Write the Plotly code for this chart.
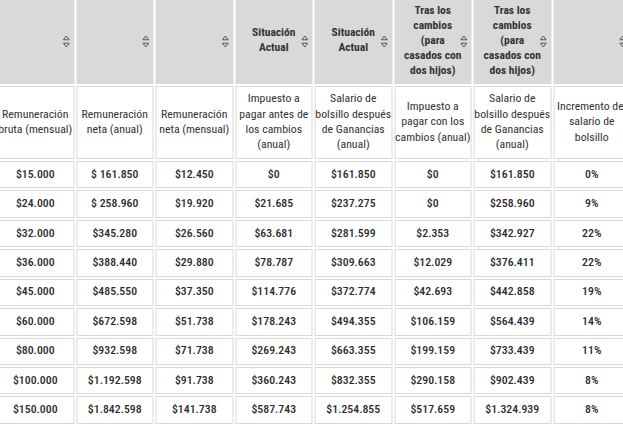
import numpy as np
import plotly.graph_objects as go

# fila 1 de encabezado (agrupación) y fila 2 (nombres de columna)
grupos = ["", "", "", "Situación<br>Actual", "Situación<br>Actual",
          "Tras los<br>cambios<br>(para<br>casados con<br>dos hijos)",
          "Tras los<br>cambios<br>(para<br>casados con<br>dos hijos)", ""]
columnas = ["Remuneración<br>bruta (mensual)",
            "Remuneración<br>neta (anual)",
            "Remuneración<br>neta (mensual)",
            "Impuesto a<br>pagar antes de<br>los cambios<br>(anual)",
            "Salario de<br>bolsillo después<br>de Ganancias<br>(anual)",
            "Impuesto a<br>pagar con los<br>cambios (anual)",
            "Salario de<br>bolsillo después<br>de Ganancias<br>(anual)",
            "Incremento del<br>salario de<br>bolsillo"]

bruta_mensual = ["$15.000", "$24.000", "$32.000", "$36.000", "$45.000",
                 "$60.000", "$80.000", "$100.000", "$150.000"]
neta_anual = ["$ 161.850", "$ 258.960", "$345.280", "$388.440", "$485.550",
              "$672.598", "$932.598", "$1.192.598", "$1.842.598"]
neta_mensual = ["$12.450", "$19.920", "$26.560", "$29.880", "$37.350",
                "$51.738", "$71.738", "$91.738", "$141.738"]
impuesto_antes = ["$0", "$21.685", "$63.681", "$78.787", "$114.776",
                  "$178.243", "$269.243", "$360.243", "$587.743"]
bolsillo_actual = ["$161.850", "$237.275", "$281.599", "$309.663", "$372.774",
                   "$494.355", "$663.355", "$832.355", "$1.254.855"]
impuesto_despues = ["$0", "$0", "$2.353", "$12.029", "$42.693",
                    "$106.159", "$199.159", "$290.158", "$517.659"]
bolsillo_despues = ["$161.850", "$258.960", "$342.927", "$376.411", "$442.858",
                    "$564.439", "$733.439", "$902.439", "$1.324.939"]
incremento = ["0%", "9%", "22%", "22%", "19%", "14%", "11%", "8%", "8%"]

datos = [bruta_mensual, neta_anual, neta_mensual, impuesto_antes,
         bolsillo_actual, impuesto_despues, bolsillo_despues, incremento]

FONT = "Roboto Condensed, Liberation Sans Narrow, Roboto, sans-serif"
GRIS = "#d9d9d9"
BORDE = "#d9d9d9"
TEXTO = "#333333"
W, H = 623, 424

# geometría de la grilla (px): la tabla está recortada a izquierda y derecha
ANCHO_COL = 79.5
X0 = -4.5
altos = [88, 75] + [29.43] * len(bruta_mensual)
Y0 = -3

n_col = len(datos)
n_fil = len(altos)
x_bordes = X0 + ANCHO_COL * np.arange(n_col + 1)
y_bordes = Y0 + np.concatenate([[0], np.cumsum(altos)])
x_centros = (x_bordes[:-1] + x_bordes[1:]) / 2
y_centros = (y_bordes[:-1] + y_bordes[1:]) / 2

# 1 = celda gris (fila de agrupación), 0 = celda blanca
relleno = np.zeros((n_fil, n_col))
relleno[0, :] = 1

fig = go.Figure()
# borde fino gris de cada celda
fig.add_trace(go.Heatmap(
    x=x_bordes, y=y_bordes, z=np.ones((n_fil, n_col)),
    colorscale=[[0, BORDE], [1, BORDE]], zmin=0, zmax=1,
    xgap=2, ygap=2, showscale=False, hoverinfo="skip",
))
# relleno de cada celda
fig.add_trace(go.Heatmap(
    x=x_bordes, y=y_bordes, z=relleno,
    colorscale=[[0, "white"], [1, GRIS]], zmin=0, zmax=1,
    xgap=4, ygap=4, showscale=False, hoverinfo="skip",
))

# textos de la fila de agrupación
fig.add_trace(go.Scatter(
    x=x_centros, y=[y_centros[0]] * n_col, text=grupos,
    mode="text", textposition="middle center",
    textfont=dict(family=FONT, size=11.5, color=TEXTO, weight="bold"),
    hoverinfo="skip",
))
# flechas de orden
x_flechas = x_bordes[1:] - 8.7
fig.add_trace(go.Scatter(
    x=x_flechas, y=[y_centros[0] - 2.5] * n_col, mode="markers",
    marker=dict(symbol="triangle-up-open", size=5, color="#555555",
                line=dict(width=1, color="#555555")),
    hoverinfo="skip",
))
fig.add_trace(go.Scatter(
    x=x_flechas, y=[y_centros[0] + 3.5] * n_col, mode="markers",
    marker=dict(symbol="triangle-down-open", size=5, color="#555555",
                line=dict(width=1, color="#555555")),
    hoverinfo="skip",
))
# nombres de columna
fig.add_trace(go.Scatter(
    x=x_centros, y=[y_centros[1]] * n_col, text=columnas,
    mode="text", textposition="middle center",
    textfont=dict(family=FONT, size=11.8, color=TEXTO),
    hoverinfo="skip",
))
# valores
xs, ys, ts = [], [], []
for j, col in enumerate(datos):
    for i, v in enumerate(col):
        xs.append(x_centros[j])
        ys.append(y_centros[i + 2])
        ts.append(v)
fig.add_trace(go.Scatter(
    x=xs, y=ys, text=ts, mode="text", textposition="middle center",
    textfont=dict(family=FONT, size=11.8, color="#2b2b2b", weight=500),
    hoverinfo="skip",
))

fig.update_layout(
    width=W,
    height=H,
    margin=dict(l=0, r=0, t=0, b=0),
    paper_bgcolor="white",
    plot_bgcolor="white",
    showlegend=False,
    xaxis=dict(range=[0, W], visible=False, fixedrange=True),
    yaxis=dict(range=[H, 0], visible=False, fixedrange=True),
)
fig.write_html("out.html", config=dict(displayModeBar=False),
               post_script="document.body.style.margin = '0';")
